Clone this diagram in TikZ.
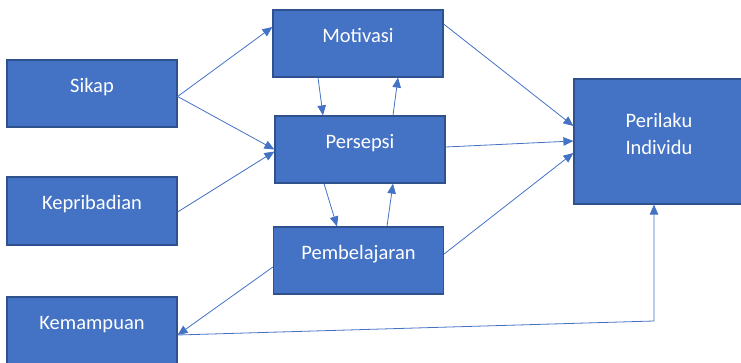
\documentclass[tikz,border=0pt]{standalone}
\usepackage{fontspec}
\setmainfont{Carlito}
\usetikzlibrary{arrows.meta}
\definecolor{boxfill}{HTML}{4472C4}
\definecolor{boxline}{HTML}{2F528F}
\tikzset{
    block/.style={draw=boxline, fill=boxfill, line width=1.2pt, text=white,
        minimum width=170pt, minimum height=67pt, inner sep=0pt,
        font={\fontsize{20.5}{24.6}\selectfont}, text height=14pt, text depth=16.4pt},
    link/.style={draw=boxfill, line width=0.8pt, -{Triangle[length=10pt, width=8.5pt]}}
}
\begin{document}
\begin{tikzpicture}[x=1pt, y=-1pt]
                \useasboundingbox (0,0) rectangle (741,363);
                \node[block] (sikap) at (92,93.5) {Sikap};
                \node[block, minimum height=68pt] (kepribadian) at (92,211) {Kepribadian};
                \node[block, minimum height=68pt] (kemampuan) at (92,331) {Kemampuan};
                \node[block] (motivasi) at (358,43.5) {Motivasi};
                \node[block] (persepsi) at (360,149.5) {Persepsi};
                \node[block] (pembelajaran) at (358.5,260.5) {Pembelajaran};
                \node[block, minimum height=125pt, align=center, text height=42pt, text depth=16.4pt]
                    (perilaku) at (659,141.5) {Perilaku\\[2.4pt]Individu};
                \coordinate (belok) at (654,321);
                \draw[link] ([yshift=-3pt]sikap.east) -- ([yshift=16.5pt]motivasi.west);
                \draw[link] ([yshift=-3pt]sikap.east) -- (persepsi.west);
                \draw[link] ([yshift=-1pt]kepribadian.east) -- ([yshift=-2pt]persepsi.west);
                \draw[link] ([xshift=-40pt]motivasi.south) -- ([xshift=-37pt]persepsi.north);
                \draw[link] ([xshift=33pt]persepsi.north) -- ([xshift=40pt]motivasi.south);
                \draw[link] ([xshift=-36pt]persepsi.south) -- ([xshift=-21.5pt]pembelajaran.north);
                \draw[link] ([xshift=28.5pt]pembelajaran.north) -- ([xshift=33pt]persepsi.south);
                \draw[link] ([yshift=-6.5pt]pembelajaran.west) -- ([yshift=-4pt]kemampuan.east);
                \draw[link] ([yshift=-4pt]kemampuan.east) -- (belok) -- ([xshift=-5pt]perilaku.south);
                \draw[link] ([yshift=19.5pt]motivasi.east) -- ([yshift=15.5pt]perilaku.west);
                \draw[link] ([yshift=2.5pt]persepsi.east) -- ([yshift=0.5pt]perilaku.west);
                \draw[link] ([yshift=6.5pt]pembelajaran.east) -- ([yshift=-11.5pt]perilaku.west);
            \end{tikzpicture}
\end{document}
